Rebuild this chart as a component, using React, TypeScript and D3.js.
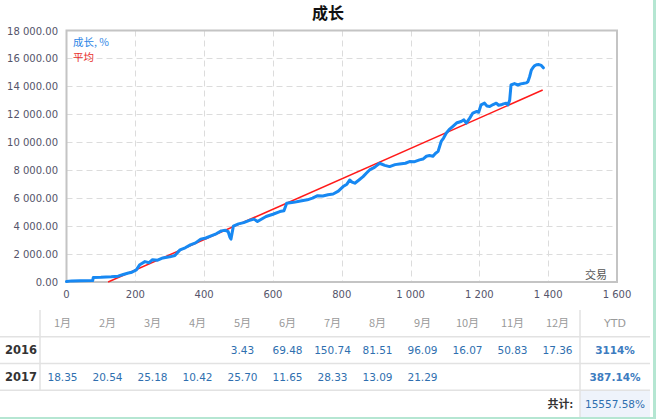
import React from 'react';
import * as d3 from 'd3';

// growth curve (trade number -> %)
const growthTrades = [0, 15, 40, 76, 78, 100, 130, 150, 165, 180, 190, 203, 213, 228, 240, 250, 265, 280, 300, 315, 330, 345, 360, 375, 390, 405, 420, 435, 450, 462, 470, 475, 478, 485, 500, 515, 530, 545, 555, 570, 580, 600, 620, 632, 640, 660, 680, 700, 715, 730, 745, 760, 775, 790, 804, 815, 823, 830, 838, 850, 862, 872, 881, 895, 910, 925, 939, 955, 968, 985, 997, 1010, 1026, 1036, 1046, 1055, 1065, 1072, 1080, 1089, 1096, 1104, 1112, 1123, 1135, 1147, 1155, 1162, 1172, 1181, 1191, 1198, 1205, 1215, 1222, 1230, 1240, 1249, 1256, 1263, 1270, 1278, 1283, 1288, 1292, 1302, 1312, 1320, 1326, 1336, 1341, 1346, 1351, 1356, 1360, 1366, 1373, 1380, 1386];
const growthValues = [30, 80, 90, 100, 330, 340, 380, 420, 540, 640, 700, 870, 1240, 1460, 1380, 1600, 1560, 1720, 1800, 1900, 2300, 2450, 2660, 2800, 3070, 3150, 3300, 3450, 3660, 3700, 3600, 3200, 3070, 4000, 4160, 4250, 4400, 4500, 4330, 4550, 4690, 4850, 5040, 5100, 5640, 5700, 5800, 5880, 6000, 6180, 6150, 6240, 6300, 6500, 6830, 7000, 7300, 7150, 7070, 7300, 7540, 7800, 8020, 8200, 8500, 8350, 8260, 8400, 8450, 8500, 8620, 8600, 8740, 8800, 9000, 9050, 9000, 9200, 9350, 10060, 10300, 10660, 10900, 11140, 11400, 11490, 11600, 11370, 11730, 12090, 12200, 12150, 12680, 12800, 12600, 12560, 12700, 12800, 12650, 12680, 12750, 12800, 12680, 13000, 14100, 14200, 14100, 14180, 14200, 14250, 14330, 14690, 15160, 15350, 15470, 15550, 15560, 15500, 15330];

// average (trend) line end points
const avgTrades = [121, 1384];
const avgValues = [0, 13740];

const yTicks = [0, 2000, 4000, 6000, 8000, 10000, 12000, 14000, 16000, 18000];
const xTicks = [0, 200, 400, 600, 800, 1000, 1200, 1400, 1600];

const months = ['1月', '2月', '3月', '4月', '5月', '6月', '7月', '8月', '9月', '10月', '11月', '12月'];
const years = ['2016', '2017'];
const row2016 = ['', '', '', '', '3.43', '69.48', '150.74', '81.51', '96.09', '16.07', '50.83', '17.36'];
const row2017 = ['18.35', '20.54', '25.18', '10.42', '25.70', '11.65', '28.33', '13.09', '21.29', '', '', ''];
const ytd = ['3114%', '387.14%'];
const totalLabel = '共计:';
const totalValue = '15557.58%';

const locale = d3.formatLocale({ decimal: '.', thousands: ' ', grouping: [3], currency: ['', ''] });
const fmtY = locale.format(',.2f');
const fmtX = locale.format(',');

const W = 656;
const H = 419;
const font = '"DejaVu Sans", Verdana, sans-serif';
const cjk = '"Noto Sans CJK SC", sans-serif';

export default function App() {
  const x = d3.scaleLinear().domain([0, 1600]).range([66.5, 617]);
  const y = d3.scaleLinear().domain([0, 18000]).range([282, 30.5]);

  const growthLine = d3
    .line<number>()
    .x((_, i) => x(growthTrades[i]))
    .y((d) => y(d))
    .curve(d3.curveLinear);
  const avgLine = d3
    .line<number>()
    .x((_, i) => x(avgTrades[i]))
    .y((d) => y(d));

  // table layout
  const col = d3.scaleBand<string>().domain(months).range([40, 580]);
  const rowY = d3.scaleBand<string>().domain(['head', ...years, 'total']).range([310, 417]);
  const rows = [row2016, row2017];
  const textY = (k: string) => (rowY(k) as number) + rowY.bandwidth() / 2 + 4;

  return (
    <div style={{ position: 'absolute', left: 0, top: 0 }}>
      <svg width={W} height={H} style={{ display: 'block', background: '#fff' }}>
        {/* title */}
        <text x={328} y={19} textAnchor="middle" fontFamily={cjk} fontWeight="bold" fontSize={16} fill="#111">
          成长
        </text>

        {/* grid */}
        <g stroke="#dcdcdc" strokeWidth={1} strokeDasharray="6,4">
          {yTicks.slice(1, -1).map((t) => (
            <line key={'gy' + t} x1={x(0)} x2={x(1600)} y1={Math.round(y(t)) + 0.5} y2={Math.round(y(t)) + 0.5} />
          ))}
          {xTicks.slice(1, -1).map((t) => (
            <line key={'gx' + t} x1={Math.round(x(t)) + 0.5} x2={Math.round(x(t)) + 0.5} y1={y(18000)} y2={y(0)} />
          ))}
        </g>

        {/* frame */}
        <rect x={x(0)} y={y(18000)} width={x(1600) - x(0)} height={y(0) - y(18000)} fill="none" stroke="#c4c4c4" strokeWidth={2} />

        {/* y labels */}
        <g fontFamily={font} fontSize={10} fill="#54546a" textAnchor="end">
          {yTicks.map((t) => (
            <text key={'ty' + t} x={58} y={y(t) + 4}>
              {fmtY(t)}
            </text>
          ))}
        </g>
        {/* x labels */}
        <g fontFamily={font} fontSize={10} fill="#54546a" textAnchor="middle">
          {xTicks.map((t) => (
            <text key={'tx' + t} x={x(t)} y={298}>
              {fmtX(t)}
            </text>
          ))}
        </g>

        {/* series */}
        <path d={avgLine(avgValues) || ''} fill="none" stroke="#ff1a1a" strokeWidth={1.5} />
        <path d={growthLine(growthValues) || ''} fill="none" stroke="#1788f2" strokeWidth={3} strokeLinejoin="round" strokeLinecap="round" />

        {/* legend */}
        <text x={73} y={46} fontFamily={cjk} fontSize={10.5} fill="#2d86e6">
          成长, %
        </text>
        <text x={73} y={61} fontFamily={cjk} fontSize={10.5} fill="#e8302c">
          平均
        </text>
        <text x={607} y={279} textAnchor="end" fontFamily={cjk} fontSize={11} fill="#555">
          交易
        </text>

        {/* table */}
        <rect x={580} y={rowY('total')} width={70} height={rowY.bandwidth()} fill="#eef3fb" />
        <g stroke="#e2e2e2" strokeWidth={1.5}>
          {[...years, 'total'].map((k) => (
            <line key={'hl' + k} x1={0} x2={650} y1={rowY(k)} y2={rowY(k)} />
          ))}
          <line x1={40} x2={40} y1={310} y2={rowY('total')} />
          <line x1={580} x2={580} y1={310} y2={417} />
        </g>
        <g fontFamily={cjk} fontSize={11} fill="#9a9a9a" textAnchor="middle">
          {months.map((m) => (
            <text key={m} x={(col(m) as number) + col.bandwidth() / 2} y={textY('head')}>
              {m}
            </text>
          ))}
          <text x={615} y={textY('head')} fontFamily={font}>
            YTD
          </text>
        </g>
        {years.map((yr, r) => (
          <g key={yr}>
            <text x={5} y={textY(yr)} fontFamily={font} fontWeight="bold" fontSize={11.5} fill="#333">
              {yr}
            </text>
            {rows[r].map((v, i) =>
              v ? (
                <text
                  key={i}
                  x={(col(months[i]) as number) + col.bandwidth() / 2}
                  y={textY(yr)}
                  textAnchor="middle"
                  fontFamily={font}
                  fontSize={10.5}
                  fill="#2f6faf"
                >
                  {v}
                </text>
              ) : null
            )}
            <text x={615} y={textY(yr)} textAnchor="middle" fontFamily={font} fontSize={10.5} fontWeight="bold" fill="#3d7cc0">
              {ytd[r]}
            </text>
          </g>
        ))}
        <text x={573} y={textY('total')} textAnchor="end" fontFamily={cjk} fontWeight="bold" fontSize={11} fill="#333">
          {totalLabel}
        </text>
        <text x={615} y={textY('total')} textAnchor="middle" fontFamily={font} fontSize={10.5} fill="#2f6faf">
          {totalValue}
        </text>

        {/* outer mint border */}
        <line x1={654.5} x2={654.5} y1={0} y2={419} stroke="#b5e6d2" strokeWidth={3} />
        <line x1={0} x2={656} y1={418} y2={418} stroke="#b5e6d2" strokeWidth={2} />
      </svg>
    </div>
  );
}
